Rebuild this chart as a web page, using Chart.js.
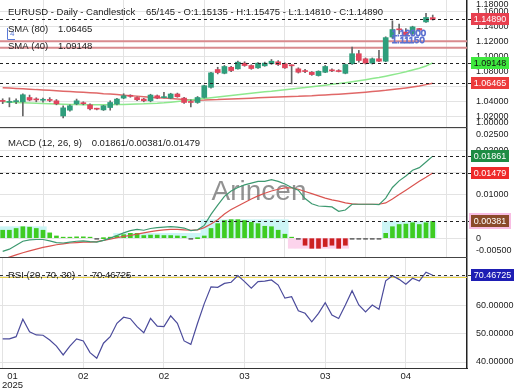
<!DOCTYPE html>
<html>
<head>
<meta charset="utf-8">
<title>EURUSD Daily</title>
<script src="https://cdn.jsdelivr.net/npm/chart.js@4.4.1/dist/chart.umd.min.js"></script>
<style>
  body { margin: 0; background: #fff; }
  #wrap { position: relative; width: 520px; height: 390px; overflow: hidden; }
  #wrap canvas { position: absolute; left: 0; }
</style>
</head>
<body>
<div id="wrap">
  <canvas id="priceChart" width="520" height="128" style="top:0"></canvas>
  <canvas id="macdChart" width="520" height="130" style="top:128px"></canvas>
  <canvas id="rsiChart" width="520" height="132" style="top:258px"></canvas>
</div>
<script>
// daily candles, oldest first
const opens = [
  1.0408, 1.0392, 1.0402, 1.0400, 1.0457, 1.0430, 1.0420, 1.0425, 1.0413, 1.0213,
  1.0289, 1.0373, 1.0380, 1.0360, 1.0305, 1.0293, 1.0324, 1.0371, 1.0449, 1.0480,
  1.0457, 1.0436, 1.0413, 1.0480, 1.0455, 1.0449, 1.0503, 1.0449, 1.0393, 1.0391,
  1.0457, 1.0591, 1.0827, 1.0777, 1.0857, 1.0836, 1.0911, 1.0880, 1.0849, 1.0876,
  1.0903, 1.0929, 1.0903, 1.0880, 1.0836, 1.0813, 1.0791, 1.0747, 1.0791, 1.0820,
  1.0810, 1.0777, 1.0903, 1.1036, 1.0969, 1.0911, 1.0969, 1.0937, 1.1257, 1.1360,
  1.1324, 1.1303, 1.1369, 1.1457, 1.15135
];
const highs = [
  1.0440, 1.0453, 1.0440, 1.0507, 1.0489, 1.0453, 1.0450, 1.0455, 1.0430, 1.0347,
  1.0360, 1.0436, 1.0400, 1.0373, 1.0315, 1.0353, 1.0413, 1.0447, 1.0507, 1.0493,
  1.0467, 1.0445, 1.0500, 1.0490, 1.0524, 1.0513, 1.0515, 1.0460, 1.0427, 1.0470,
  1.0620, 1.0790, 1.0857, 1.0880, 1.0870, 1.0940, 1.0930, 1.0890, 1.0920, 1.0925,
  1.0960, 1.0945, 1.0915, 1.0890, 1.0850, 1.0830, 1.0800, 1.0810, 1.0880, 1.0835,
  1.0825, 1.0900, 1.1124, 1.1080, 1.0980, 1.0980, 1.1080, 1.1260, 1.1471, 1.1427,
  1.1369, 1.1400, 1.1372, 1.1569, 1.15475
];
const lows = [
  1.0375, 1.0333, 1.0375, 1.0213, 1.0413, 1.0400, 1.0395, 1.0400, 1.0360, 1.0187,
  1.0275, 1.0360, 1.0360, 1.0293, 1.0293, 1.0285, 1.0289, 1.0360, 1.0440, 1.0460,
  1.0415, 1.0400, 1.0400, 1.0440, 1.0450, 1.0440, 1.0460, 1.0380, 1.0333, 1.0380,
  1.0450, 1.0580, 1.0769, 1.0770, 1.0800, 1.0830, 1.0870, 1.0830, 1.0840, 1.0870,
  1.0895, 1.0880, 1.0840, 1.0636, 1.0780, 1.0785, 1.0750, 1.0740, 1.0785, 1.0800,
  1.0795, 1.0770, 1.0895, 1.0924, 1.0900, 1.0900, 1.0930, 1.0930, 1.1240, 1.1302,
  1.1267, 1.1290, 1.1330, 1.1450, 1.14810
];
const closes = [
  1.0405, 1.0396, 1.0405, 1.0493, 1.0423, 1.0425, 1.0422, 1.0418, 1.0373, 1.0320,
  1.0347, 1.0413, 1.0375, 1.0307, 1.0302, 1.0347, 1.0391, 1.0436, 1.0480, 1.0473,
  1.0427, 1.0413, 1.0489, 1.0449, 1.0465, 1.0503, 1.0467, 1.0391, 1.0391, 1.0457,
  1.0613, 1.0783, 1.0787, 1.0867, 1.0813, 1.0924, 1.0880, 1.0840, 1.0911, 1.0911,
  1.0937, 1.0893, 1.0849, 1.0876, 1.0791, 1.0800, 1.0760, 1.0804, 1.0867, 1.0810,
  1.0800, 1.0893, 1.1036, 1.0947, 1.0911, 1.0969, 1.0937, 1.1249, 1.1356, 1.1352,
  1.1289, 1.1391, 1.1347, 1.1516, 1.14890
];
const sma40 = [
  1.0400, 1.0396, 1.0392, 1.0388, 1.0384, 1.0380, 1.0376, 1.0373, 1.0371, 1.0368,
  1.0365, 1.0363, 1.0361, 1.0360, 1.0360, 1.0360, 1.0361, 1.0363, 1.0365, 1.0368,
  1.0371, 1.0373, 1.0377, 1.0381, 1.0387, 1.0395, 1.0404, 1.0413, 1.0424, 1.0436,
  1.0445, 1.0455, 1.0464, 1.0473, 1.0483, 1.0493, 1.0503, 1.0513, 1.0524, 1.0533,
  1.0541, 1.0551, 1.0560, 1.0569, 1.0579, 1.0588, 1.0599, 1.0609, 1.0620, 1.0631,
  1.0641, 1.0653, 1.0665, 1.0679, 1.0692, 1.0707, 1.0721, 1.0739, 1.0757, 1.0776,
  1.0797, 1.0821, 1.0845, 1.0873, 1.09148
];
const sma80 = [
  1.0587, 1.0581, 1.0576, 1.0572, 1.0567, 1.0561, 1.0557, 1.0553, 1.0547, 1.0541,
  1.0536, 1.0531, 1.0525, 1.0520, 1.0515, 1.0508, 1.0503, 1.0495, 1.0488, 1.0481,
  1.0475, 1.0468, 1.0461, 1.0455, 1.0449, 1.0443, 1.0436, 1.0429, 1.0424, 1.0421,
  1.0423, 1.0427, 1.0429, 1.0433, 1.0436, 1.0440, 1.0444, 1.0448, 1.0452, 1.0456,
  1.0459, 1.0463, 1.0467, 1.0471, 1.0473, 1.0477, 1.0480, 1.0485, 1.0491, 1.0496,
  1.0501, 1.0507, 1.0513, 1.0520, 1.0527, 1.0535, 1.0543, 1.0552, 1.0563, 1.0573,
  1.0584, 1.0596, 1.0609, 1.0627, 1.06465
];
const priceLevels = [1.12000, 1.11150];

// MACD (12, 26, 9)
const macdLine = [
  -0.0030, -0.0025, -0.0016, -0.0007, -0.0004, -0.0003, -0.0003, -0.0006, -0.0010, -0.0011,
  -0.0009, -0.0007, -0.0006, -0.0008, -0.0009, -0.0005, 0.0000, 0.0006, 0.0012, 0.0017,
  0.0020, 0.0018, 0.0022, 0.0024, 0.0025, 0.0026, 0.0025, 0.0023, 0.0017, 0.0019,
  0.0029, 0.0054, 0.0075, 0.0095, 0.0107, 0.0115, 0.0121, 0.0125, 0.0129, 0.0129,
  0.0133, 0.0129, 0.0123, 0.0115, 0.0109, 0.0090, 0.0078, 0.0073, 0.0072, 0.0071,
  0.0061, 0.0064, 0.0077, 0.0077, 0.0077, 0.0077, 0.0076, 0.0091, 0.0115, 0.0130,
  0.0141, 0.0154, 0.0160, 0.0173, 0.01861
];
const signalLine = [
  -0.0048, -0.0043, -0.0038, -0.0033, -0.0029, -0.0025, -0.0021, -0.0018, -0.0015, -0.0013,
  -0.0011, -0.0010, -0.0009, -0.0009, -0.0008, -0.0005, -0.0002, 0.0001, 0.0004, 0.0006,
  0.0009, 0.0012, 0.0015, 0.0017, 0.0019, 0.0020, 0.0020, 0.0019, 0.0018, 0.0019,
  0.0024, 0.0032, 0.0042, 0.0055, 0.0065, 0.0073, 0.0081, 0.0089, 0.0096, 0.0102,
  0.0107, 0.0111, 0.0114, 0.0114, 0.0111, 0.0106, 0.0101, 0.0096, 0.0091, 0.0087,
  0.0084, 0.0080, 0.0078, 0.0077, 0.0077, 0.0077, 0.0077, 0.0080, 0.0089, 0.0099,
  0.0109, 0.0119, 0.0129, 0.0138, 0.01479
];
const histogram = [
  0.0018, 0.0018, 0.0022, 0.0026, 0.0025, 0.0022, 0.0018, 0.0012, 0.0005, 0.0002,
  0.0002, 0.0003, 0.0003, 0.0001, -0.0001, 0.0000, 0.0002, 0.0005, 0.0008, 0.0011,
  0.0011, 0.0006, 0.0007, 0.0007, 0.0006, 0.0006, 0.0005, 0.0004, -0.0001, 0.0000,
  0.0005, 0.0022, 0.0033, 0.0040, 0.0042, 0.0042, 0.0040, 0.0036, 0.0033, 0.0027,
  0.0026, 0.0018, 0.0009, 0.0001, -0.0002, -0.0016, -0.0023, -0.0023, -0.0019, -0.0016,
  -0.0023, -0.0016, -0.0001, -0.0001, -0.0001, -0.0001, -0.0001, 0.0011, 0.0026, 0.0031,
  0.0032, 0.0035, 0.0031, 0.0035, 0.00381
];
// shaded swing boxes behind the histogram
const histZone = [
  0.0026, 0.0026, 0.0026, 0.0026, 0.0026, 0.0026, 0.0026, null, null, null,
  null, null, null, null, null, null, null, 0.0011, 0.0011, 0.0011,
  0.0011, 0.0011, 0.0011, 0.0011, 0.0011, 0.0011, 0.0011, 0.0011, 0.0011, 0.0011,
  0.0042, 0.0042, 0.0042, 0.0042, 0.0042, 0.0042, 0.0042, 0.0042, 0.0042, 0.0042,
  0.0042, 0.0042, 0.0042, -0.0023, -0.0023, -0.0023, -0.0023, -0.0023, -0.0023, -0.0023,
  -0.0023, -0.0023, null, null, null, null, null, 0.0038, 0.0038, 0.0038,
  0.0038, 0.0038, 0.0038, 0.0038, 0.0038
];

// RSI (20, 70, 30)
const rsi = [
  48.1, 48.1, 48.9, 55.0, 50.6, 49.5, 49.4, 47.7, 45.6, 42.5,
  45.6, 48.1, 47.4, 43.3, 41.3, 46.6, 48.9, 53.6, 55.7, 55.2,
  52.4, 50.3, 55.3, 52.6, 52.4, 56.2, 53.6, 47.4, 46.2, 53.6,
  60.5, 66.4, 66.2, 67.6, 68.0, 70.3, 68.2, 65.9, 68.2, 68.4,
  68.8, 67.0, 62.4, 62.9, 58.0, 57.1, 54.1, 57.1, 60.8, 56.5,
  55.3, 60.0, 65.0, 60.0, 57.6, 60.0, 58.5, 68.5, 70.3, 69.0,
  67.3, 69.4, 68.4, 71.5, 70.46725
];
const rsiBand = 70;

// axis ticks
const priceTicks = [1.00, 1.02, 1.04, 1.06, 1.08, 1.10, 1.12, 1.14, 1.16, 1.18];
const macdTicks = [-0.005, 0, 0.005, 0.010, 0.015, 0.020, 0.025];
const rsiTicks = [40, 50, 60, 70];
const xTickPos = [0, 12, 24, 36, 48, 60];
const xTickLabels = [['01', '2025'], ['02'], ['02'], ['03'], ['03'], ['04']];

const FONT = '"Liberation Sans", Arial, sans-serif';
const GRID = '#e3e3e3';
const UP = '#2f9e7c', DOWN = '#e0455c';
const LAST = closes.length - 1;

function pts(arr) {
  return arr.map((v, i) => ({ x: i, y: v }));
}

function xAxis(space, border) {
  return {
    type: 'linear', min: -0.4, max: 69.1, offset: false,
    afterBuildTicks: s => { s.ticks = xTickPos.map(v => ({ value: v })); },
    ticks: { display: false },
    grid: { color: GRID, drawTicks: false },
    border: { display: border, color: '#333', width: 1 },
    afterFit: s => { s.height = space; }
  };
}

function yAxis(min, max, vals) {
  return {
    position: 'right', min: min, max: max,
    afterBuildTicks: s => { s.ticks = vals.filter(v => v >= min && v <= max).map(v => ({ value: v })); },
    ticks: { display: false },
    grid: { color: GRID, drawTicks: false },
    border: { color: '#222', width: 1.5 },
    afterFit: s => { s.width = 53; }
  };
}

function baseOptions(scales) {
  return {
    responsive: false,
    animation: false,
    events: [],
    layout: { padding: 0 },
    plugins: { legend: { display: false }, tooltip: { enabled: false } },
    scales: scales
  };
}

// right-hand value labels, optionally squeezed inside the panel
function yLabels(chart, vals, pad) {
  const { ctx, chartArea: a, scales: { y } } = chart;
  ctx.save();
  ctx.font = '9px ' + FONT;
  ctx.fillStyle = '#222';
  ctx.textAlign = 'left';
  ctx.textBaseline = 'middle';
  vals.forEach(v => {
    let py = y.getPixelForValue(v);
    if (pad == null) {
      if (py < a.top || py > a.bottom) return;
    } else {
      py = Math.min(Math.max(py, a.top + pad), a.bottom - pad);
    }
    ctx.fillText(v === 0 ? '0' : v.toFixed(5), 476, py);
  });
  ctx.restore();
}

function dashed(ctx, x1, x2, y, color) {
  ctx.save();
  ctx.setLineDash([3, 3]);
  ctx.strokeStyle = color;
  ctx.lineWidth = 1;
  ctx.beginPath();
  ctx.moveTo(x1, Math.round(y) + 0.5);
  ctx.lineTo(x2, Math.round(y) + 0.5);
  ctx.stroke();
  ctx.restore();
}

function tag(ctx, y, text, bg, fg, w, ring) {
  const x = 471, h = 12, top = Math.round(y - h / 2);
  ctx.save();
  if (ring) {
    ctx.fillStyle = ring;
    ctx.fillRect(x - 2, top - 2, w + 4, h + 4);
  }
  ctx.fillStyle = bg;
  ctx.fillRect(x, top, w, h);
  ctx.fillStyle = fg;
  ctx.font = '9px ' + FONT;
  ctx.textAlign = 'center';
  ctx.textBaseline = 'middle';
  ctx.fillText(text, x + w / 2, top + h / 2 + 0.5);
  ctx.restore();
}

function caption(ctx, parts, y) {
  ctx.save();
  ctx.font = '9.5px ' + FONT;
  ctx.fillStyle = '#222';
  ctx.textAlign = 'left';
  ctx.textBaseline = 'middle';
  parts.forEach(p => ctx.fillText(p[0], p[1], y));
  ctx.restore();
}

function separator(chart) {
  const { ctx, chartArea: a } = chart;
  ctx.save();
  ctx.strokeStyle = '#444';
  ctx.lineWidth = 1;
  ctx.beginPath();
  ctx.moveTo(a.left, a.bottom - 0.5);
  ctx.lineTo(a.right, a.bottom - 0.5);
  ctx.stroke();
  ctx.restore();
}

// ---------- price panel ----------
const priceOverlay = {
  id: 'priceOverlay',
  beforeDatasetsDraw(chart) {
    const { ctx, chartArea: a, scales: { y } } = chart;
    ctx.save();
    ctx.strokeStyle = '#d98a8e';
    ctx.lineWidth = 2;
    priceLevels.forEach(v => {
      const py = y.getPixelForValue(v);
      ctx.beginPath();
      ctx.moveTo(a.left, py);
      ctx.lineTo(a.right, py);
      ctx.stroke();
    });
    ctx.restore();
  },
  afterDraw(chart) {
    const { ctx, chartArea: a, scales: { x, y } } = chart;
    yLabels(chart, priceTicks, 5);
    const marks = [
      [closes[LAST], '#e8404f', '#fff'],
      [sma40[LAST], '#3ee83e', '#111'],
      [sma80[LAST], '#ec3b3b', '#fff']
    ];
    marks.forEach(m => {
      const py = y.getPixelForValue(m[0]);
      dashed(ctx, a.left, 471, py, '#222');
      tag(ctx, py, m[0].toFixed(5), m[1], m[2], 38);
    });
    ctx.save();
    ctx.font = '9.5px ' + FONT;
    ctx.strokeStyle = '#5a6fd0';
    ctx.lineWidth = 0.8;
    ctx.textAlign = 'left';
    ctx.textBaseline = 'bottom';
    priceLevels.forEach(v => ctx.strokeText(v.toFixed(5), x.getPixelForValue(57.9), y.getPixelForValue(v) - 3));
    ctx.restore();

    // small blue drawing-tool marker at the left
    ctx.save();
    ctx.strokeStyle = '#5a7ad8';
    ctx.lineWidth = 1;
    ctx.beginPath();
    ctx.moveTo(7.5, 28);
    ctx.lineTo(7.5, 39.5);
    ctx.lineTo(15, 39.5);
    ctx.stroke();
    ctx.font = '8px ' + FONT;
    ctx.fillStyle = '#5a7ad8';
    ctx.textBaseline = 'middle';
    ctx.fillText('4', 10, 34);
    ctx.restore();

    caption(ctx, [['EURUSD - Daily - Candlestick', 8],
      [closes.length + '/145 - O:' + opens[LAST].toFixed(5) + ' - H:' + highs[LAST].toFixed(5) +
       ' - L:' + lows[LAST].toFixed(5) + ' - C:' + closes[LAST].toFixed(5), 146]], 12.5);
    caption(ctx, [['SMA (80)', 8], [sma80[LAST].toFixed(5), 58]], 29.5);
    caption(ctx, [['SMA (40)', 8], [sma40[LAST].toFixed(5), 58]], 46.5);
    separator(chart);
  }
};

new Chart(document.getElementById('priceChart'), {
  type: 'bar',
  data: {
    datasets: [
      {
        data: closes.map((c, i) => ({ x: i, y: [opens[i], c] })),
        backgroundColor: closes.map((c, i) => c >= opens[i] ? UP : DOWN),
        barThickness: 5, minBarLength: 1, grouped: false, borderWidth: 0
      },
      {
        data: closes.map((c, i) => ({ x: i, y: [lows[i], highs[i]] })),
        backgroundColor: '#666', barThickness: 1, grouped: false, borderWidth: 0
      },
      { type: 'line', data: pts(sma40), borderColor: '#8ee88e', borderWidth: 1.5, pointRadius: 0 },
      { type: 'line', data: pts(sma80), borderColor: '#e06868', borderWidth: 1.5, pointRadius: 0 }
    ]
  },
  options: baseOptions({ x: xAxis(0, false), y: yAxis(1.00533, 1.17467, priceTicks) }),
  plugins: [priceOverlay]
});

// ---------- MACD panel ----------
const macdOverlay = {
  id: 'macdOverlay',
  beforeDatasetsDraw(chart) {
    const { ctx } = chart;
    ctx.save();
    ctx.font = '28px ' + FONT;
    ctx.fillStyle = 'rgba(110,110,110,0.75)';
    ctx.textAlign = 'center';
    ctx.textBaseline = 'middle';
    ctx.fillText('Arincen', 259, 64);
    ctx.restore();
  },
  afterDraw(chart) {
    const { ctx, chartArea: a, scales: { y } } = chart;
    yLabels(chart, macdTicks, 7);
    const marks = [
      [macdLine[LAST], '#1e8c44', '#fff', null],
      [signalLine[LAST], '#ee2a2a', '#fff', null],
      [histogram[LAST], '#8a4a2a', '#fff', '#f8bde3']
    ];
    marks.forEach(m => {
      const py = y.getPixelForValue(m[0]);
      dashed(ctx, a.left, 471, py, '#222');
      tag(ctx, py, m[0].toFixed(5), m[1], m[2], 38, m[3]);
    });
    caption(ctx, [['MACD (12, 26, 9)', 8],
      [macdLine[LAST].toFixed(5) + '/' + histogram[LAST].toFixed(5) + '/' + signalLine[LAST].toFixed(5), 91.7]], 15.5);
    separator(chart);
  }
};

new Chart(document.getElementById('macdChart'), {
  type: 'bar',
  data: {
    datasets: [
      { type: 'line', data: pts(macdLine), borderColor: '#3d9970', borderWidth: 1.2, pointRadius: 0 },
      { type: 'line', data: pts(signalLine), borderColor: '#d9534f', borderWidth: 1.2, pointRadius: 0 },
      {
        data: pts(histogram),
        backgroundColor: histogram.map(h => h >= 0 ? '#3fcc22' : (h > -0.0005 ? '#333' : '#cc2020')),
        barThickness: 4, minBarLength: 1, grouped: false, borderWidth: 0
      },
      {
        data: pts(histZone),
        backgroundColor: histZone.map(h => h >= 0 ? '#ccf6f6' : '#fcd4ec'),
        barPercentage: 1, categoryPercentage: 1, grouped: false, borderWidth: 0
      }
    ]
  },
  options: baseOptions({ x: xAxis(0, false), y: yAxis(-0.0045, 0.025, macdTicks) }),
  plugins: [macdOverlay]
});

// ---------- RSI panel ----------
const rsiOverlay = {
  id: 'rsiOverlay',
  beforeDatasetsDraw(chart) {
    const { ctx, chartArea: a, scales: { y } } = chart;
    const py = Math.round(y.getPixelForValue(rsiBand)) + 0.5;
    ctx.save();
    ctx.strokeStyle = '#e8d048';
    ctx.lineWidth = 1;
    ctx.beginPath();
    ctx.moveTo(a.left, py);
    ctx.lineTo(a.right, py);
    ctx.stroke();
    ctx.restore();
  },
  afterDraw(chart) {
    const { ctx, chartArea: a, scales: { x, y } } = chart;
    yLabels(chart, rsiTicks, null);
    const py = y.getPixelForValue(rsi[LAST]);
    dashed(ctx, a.left, 471, py, '#333');
    tag(ctx, py, rsi[LAST].toFixed(5), '#1e1eb4', '#fff', 43);
    caption(ctx, [['RSI (20, 70, 30)', 8], [rsi[LAST].toFixed(5), 91.7]], 17);

    ctx.save();
    ctx.font = '9.5px ' + FONT;
    ctx.fillStyle = '#222';
    ctx.textAlign = 'center';
    ctx.textBaseline = 'middle';
    xTickPos.forEach((v, k) => {
      const lines = xTickLabels[k];
      const w = Math.max(...lines.map(t => ctx.measureText(t).width));
      const px = Math.max(x.getPixelForValue(v), a.left + w / 2 + 2);
      lines.forEach((t, j) => ctx.fillText(t, px, a.bottom + 8 + j * 9));
    });
    ctx.restore();
  }
};

new Chart(document.getElementById('rsiChart'), {
  type: 'line',
  data: {
    datasets: [
      { data: pts(rsi), borderColor: '#4b4b9b', borderWidth: 1.2, pointRadius: 0 }
    ]
  },
  options: baseOptions({ x: xAxis(22, true), y: yAxis(37.9, 76.5, rsiTicks) }),
  plugins: [rsiOverlay]
});
</script>
</body>
</html>
